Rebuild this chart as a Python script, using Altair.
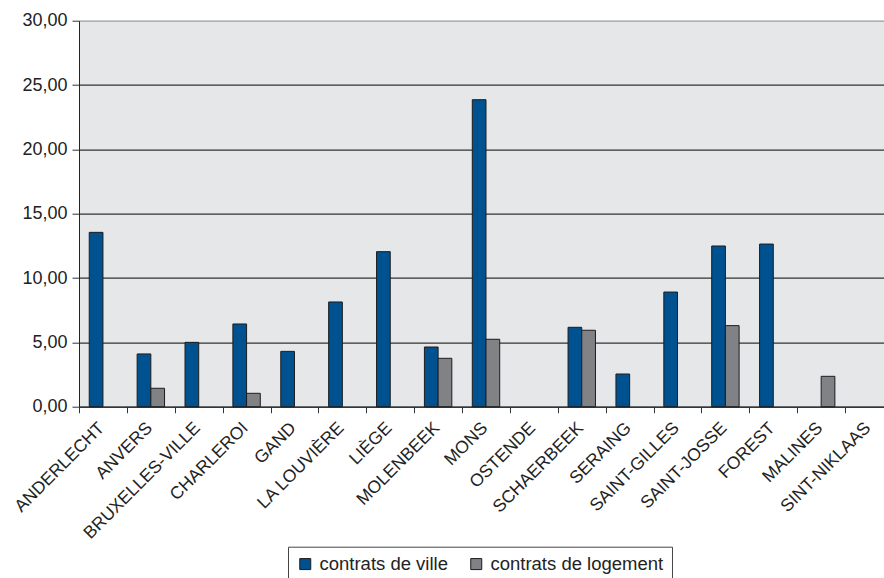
import altair as alt
import pandas as pd

# Communes (axe des abscisses)
communes = [
    "ANDERLECHT", "ANVERS", "BRUXELLES-VILLE", "CHARLEROI", "GAND",
    "LA LOUVIÈRE", "LIÈGE", "MOLENBEEK", "MONS", "OSTENDE", "SCHAERBEEK",
    "SERAING", "SAINT-GILLES", "SAINT-JOSSE", "FOREST", "MALINES", "SINT-NIKLAAS",
]

# Séries
contrats_ville = [13.55, 4.10, 5.00, 6.43, 4.30, 8.14, 12.05, 4.64, 23.86, 0.0,
                  6.17, 2.54, 8.91, 12.49, 12.64, 0.0, 0.0]
contrats_logement = [0.0, 1.43, 0.0, 1.04, 0.0, 0.0, 0.0, 3.76, 5.24, 0.0,
                     5.94, 0.0, 0.0, 6.30, 0.0, 2.36, 0.0]

series = ["contrats de ville", "contrats de logement"]
colors = ["#00518f", "#808285"]
y_ticks = [0, 5, 10, 15, 20, 25, 30]

rows = []
for i, c in enumerate(communes):
    rows.append({"commune": c, "serie": series[0], "valeur": contrats_ville[i]})
    rows.append({"commune": c, "serie": series[1], "valeur": contrats_logement[i]})
df = pd.DataFrame(rows)

FONT = "Liberation Sans"

chart = (
    alt.Chart(df)
    .transform_filter("datum.valeur > 0")
    .mark_bar(stroke="#1c1c1c", strokeWidth=1)
    .encode(
        x=alt.X(
            "commune:N",
            sort=communes,
            scale=alt.Scale(domain=communes, range=[0, 814], paddingInner=0, paddingOuter=0),
            axis=alt.Axis(
                title=None,
                labelAngle=315,
                labelFont=FONT,
                labelFontSize=17.5,
                labelColor="#222222",
                labelPadding=6,
                labelOffset=-8,
                tickBand="extent",
                tickSize=6,
                tickColor="#333333",
                domainColor="#222222",
                domainWidth=1,
                grid=False,
            ),
        ),
        xOffset=alt.XOffset(
            "serie:N",
            sort=series,
            scale=alt.Scale(domain=series, paddingInner=0, paddingOuter=0.747),
        ),
        y=alt.Y(
            "valeur:Q",
            scale=alt.Scale(domain=[0, 30], nice=False),
            axis=alt.Axis(
                title=None,
                values=y_ticks,
                labelExpr="replace(format(datum.value, '.2f'), '.', ',')",
                labelFont=FONT,
                labelFontSize=18,
                labelColor="#222222",
                labelPadding=5,
                tickSize=7,
                tickColor="#333333",
                domainColor="#222222",
                domainWidth=1,
                gridColor=alt.condition("datum.value == 30", alt.value("#9a9a9a"), alt.value("#333333")),
                gridWidth=1.2,
            ),
        ),
        color=alt.Color(
            "serie:N",
            sort=series,
            scale=alt.Scale(domain=series, range=colors),
            legend=alt.Legend(
                title=None,
                orient="none",
                direction="horizontal",
                legendX=209,
                legendY=526,
                symbolType="square",
                symbolSize=121,
                symbolStrokeColor="#1c1c1c",
                symbolStrokeWidth=1,
                labelFont=FONT,
                labelFontSize=18.5,
                labelColor="#222222",
                labelOffset=5,
                labelLimit=400,
                columnPadding=18,
                padding=8,
                strokeColor="#444444",
                fillColor="#ffffff",
            ),
        ),
    )
    .properties(
        width=805,
        height=386,
        autosize=alt.AutoSizeParams(type="none"),
        padding={"left": 79, "top": 20.7, "right": 0, "bottom": 171},
        background="#ffffff",
    )
    .configure_view(stroke="transparent", fill="#e6e7e9")
)

chart.save("out.html", embed_options={"renderer": "svg", "actions": False})
